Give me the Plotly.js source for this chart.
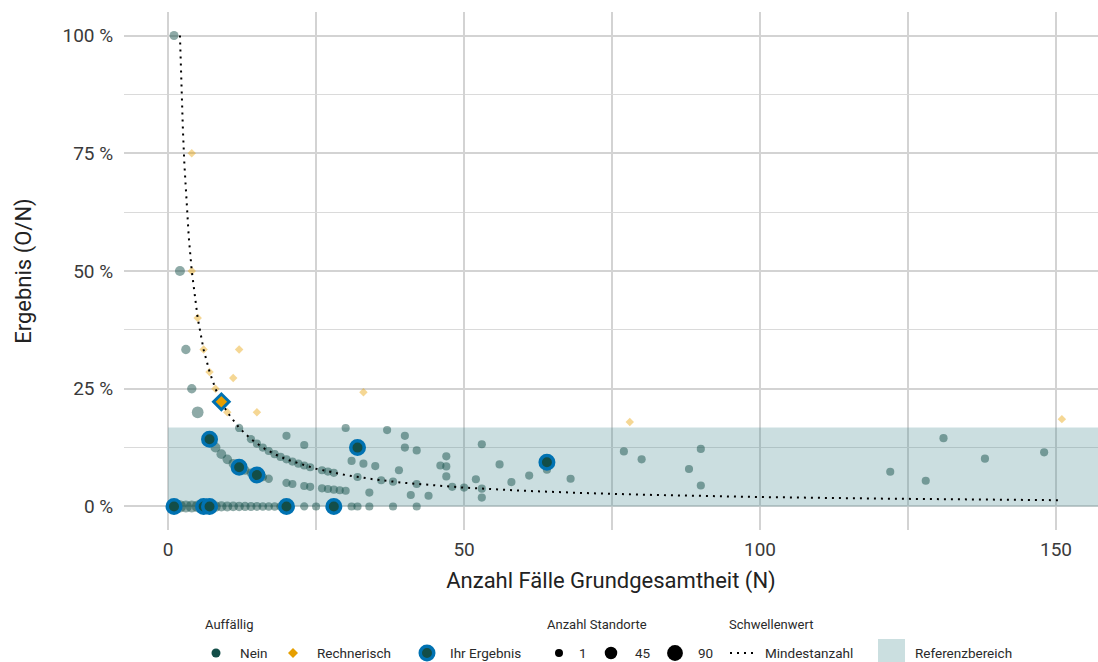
<!DOCTYPE html>
<html><head><meta charset="utf-8">
<script src="https://cdn.plot.ly/plotly-3.0.1.min.js"></script>
<style>html,body{margin:0;padding:0;background:#fff}#chart{width:1098px;height:662px}</style>
</head><body><div id="chart"></div>
<script>
// ---- Data: "Nein" (not conspicuous) sites: N = cases, O = observed events, standorte = number of sites at that point
const neinN = [1,2,3,4,5,6,7,8,9,10,11,12,13,14,15,16,17,18,19,20,23,25,28,31,32,34,38,42,
  1,2,3,4,5,7,8,9,10,11,12,13,14,15,16,17,20,21,23,24,26,27,28,29,30,34,41,44,53,
  12,14,15,16,17,18,19,20,21,22,23,24,26,27,28,32,36,38,42,48,50,53,
  20,23,31,33,35,39,47,52,58,
  46,47,61,68,90,
  30,40,42,47,56,64,
  37,40,
  53,88,128,
  80,
  77,122,
  90,
  138,
  148,
  131];
const neinO = [0,0,0,0,0,0,0,0,0,0,0,0,0,0,0,0,0,0,0,0,0,0,0,0,0,0,0,0,
  1,1,1,1,1,1,1,1,1,1,1,1,1,1,1,1,1,1,1,1,1,1,1,1,1,1,1,1,1,
  2,2,2,2,2,2,2,2,2,2,2,2,2,2,2,2,2,2,2,2,2,2,
  3,3,3,3,3,3,3,3,3,
  4,4,4,4,4,
  5,5,5,5,5,5,
  6,6,
  7,7,7,
  8,
  9,9,
  11,
  14,
  17,
  19];
const neinStandorte = [45,42,40,38,36,32,28,24,20,18,15,13,11,9,8,6,5,4,4,3,3,2,2,2,2,2,2,2,
  9,18,12,12,36,20,18,16,14,12,10,9,8,6,5,4,3,2,2,2,2,2,2,2,2,2,2,2,2,
  3,3,2,2,2,2,2,2,2,2,2,2,2,2,2,2,2,2,2,2,2,2,
  2,2,2,2,2,2,2,2,2,
  2,2,2,2,2,
  2,2,2,2,2,2,
  2,2,
  2,2,2,
  2,
  2,2,
  2,
  2,
  2,
  2];

// ---- Data: "Rechnerisch" (computationally conspicuous)
const rechN = [4,4,5,6,7,8,10,11,12,15,33,78,151];
const rechO = [3,2,2,2,2,2,2,3,4,3,8,14,28];

// ---- Data: "Ihr Ergebnis" (own sites)
const ihrN = [1,6,7,20,28,7,12,15,32,64];
const ihrO = [0,0,0,0,0,1,1,1,4,6];
const ihrRechN = [9];
const ihrRechO = [2];

// ---- Threshold line "Mindestanzahl"
const mindestN = [2,2.25,2.5,2.75,3,3.5,4,4.5,5,6,7,8,9,10,12,14,16,18,20,25,30,35,40,50,60,70,80,100,120,151];
const mindestY = [1.0,0.889,0.8,0.727,0.667,0.571,0.5,0.444,0.4,0.333,0.286,0.25,0.222,0.2,0.167,0.143,0.125,0.111,0.1,0.08,0.0667,0.0571,0.05,0.04,0.0333,0.0286,0.025,0.02,0.0167,0.0132];

// ---- Reference range
const refLower = 0;
const refUpper = 0.1677;

// ---- Axis ticks
const xTicks = [0,50,100,150];
const xMinor = [25,75,125];
const yTicks = [0,0.25,0.5,0.75,1];
const yTickText = ['0 %','25 %','50 %','75 %','100 %'];
const yMinor = [0.125,0.375,0.625,0.875];

// ---- Legend texts
const legendTitles = ['Auffällig','Anzahl Standorte','Schwellenwert'];
const auffLabels = ['Nein','Rechnerisch','Ihr Ergebnis'];
const sizeLegend = [1,45,90];
const schwelleLabel = 'Mindestanzahl';
const refLabel = 'Referenzbereich';

// ---- Styles
const FONT = 'Roboto, "Noto Sans", "DejaVu Sans", sans-serif';
const cNein = '#134e48';
const cRech = '#E69F00';
const cIhr = '#0072B2';
const DOT = '2px,5px';
const sizeOf = c => Math.sqrt(62 + 2.1 * c);
const ratio = (o, n) => o.map((v, i) => v / n[i]);

const traces = [
  {type:'scatter', mode:'markers', name:'Nein', x: neinN, y: ratio(neinO, neinN), showlegend:false,
   marker:{color:cNein, opacity:0.48, size: neinStandorte.map(sizeOf), line:{width:0}}},
  {type:'scatter', mode:'markers', name:'Rechnerisch', x: rechN, y: ratio(rechO, rechN), showlegend:false,
   marker:{color:cRech, opacity:0.42, symbol:'diamond', size:6.5, line:{width:0}}},
  {type:'scatter', mode:'lines', name:'Mindestanzahl', x: mindestN, y: mindestY, showlegend:false, hoverinfo:'skip',
   line:{color:'#000', width:2, dash:DOT}},
  {type:'scatter', mode:'markers', name:'Ihr Ergebnis', x: ihrN, y: ratio(ihrO, ihrN), showlegend:false,
   marker:{color:cNein, size:13.5, line:{color:cIhr, width:3.5}}},
  {type:'scatter', mode:'markers', name:'Ihr Ergebnis', x: ihrRechN, y: ratio(ihrRechO, ihrRechN), showlegend:false,
   marker:{color:cRech, symbol:'diamond', size:12, line:{color:cIhr, width:3}}}
];

// px -> paper helpers (plot area: x 124..1098, y 12..530)
const px = v => (v - 124) / 974;
const py = v => (530 - v) / 518;
const LY = 653, TY = 624;

function circ(cx, d, color, line) {
  return {type:'circle', xref:'paper', yref:'paper', xsizemode:'pixel', ysizemode:'pixel',
    xanchor:px(cx), yanchor:py(LY), x0:-d/2, x1:d/2, y0:-d/2, y1:d/2,
    fillcolor:color, line: line || {width:0}, layer:'above'};
}
function txt(t, xpx, ypx, size) {
  return {text:t, xref:'paper', yref:'paper', x:px(xpx), y:py(ypx), xanchor:'left', yanchor:'middle',
    showarrow:false, font:{family:FONT, size:size, color:'#2a2a2a'}};
}

const legendShapes = [
  circ(216, 9, cNein),
  {type:'path', xref:'paper', yref:'paper', xsizemode:'pixel', ysizemode:'pixel',
   xanchor:px(293), yanchor:py(LY), path:'M-5,0L0,5L5,0L0,-5Z', fillcolor:cRech, line:{width:0}, layer:'above'},
  circ(427, 13.5, cNein, {color:cIhr, width:3.5}),
  circ(559, sizeOf(sizeLegend[0]), '#000'),
  circ(611, sizeOf(sizeLegend[1]), '#000'),
  circ(675, sizeOf(sizeLegend[2]), '#000'),
  {type:'line', xref:'paper', yref:'paper', x0:px(730), x1:px(753), y0:py(LY), y1:py(LY),
   line:{color:'#000', width:2, dash:DOT}, layer:'above'},
  {type:'rect', xref:'paper', yref:'paper', x0:px(878), x1:px(905), y0:py(639), y1:py(668),
   fillcolor:'#cbdfe0', line:{width:0}, layer:'above'}
];

const legendAnn = [
  txt(legendTitles[0], 203, TY, 13),
  txt(legendTitles[1], 545, TY, 13),
  txt(legendTitles[2], 727, TY, 13),
  txt(auffLabels[0], 238, LY, 13.5),
  txt(auffLabels[1], 315, LY, 13.5),
  txt(auffLabels[2], 448, LY, 13.5),
  txt(String(sizeLegend[0]), 577, LY, 13.5),
  txt(String(sizeLegend[1]), 633, LY, 13.5),
  txt(String(sizeLegend[2]), 696, LY, 13.5),
  txt(schwelleLabel, 763, LY, 13.5),
  txt(refLabel, 913, LY, 13.5)
];

const layout = {
  width:1098, height:662,
  margin:{l:124, r:0, t:12, b:132, pad:0},
  paper_bgcolor:'#fff', plot_bgcolor:'#fff',
  font:{family:FONT, color:'#333'},
  showlegend:false,
  xaxis:{
    range:[-7.45,157.1], tickvals:xTicks, ticktext:xTicks.map(String),
    showgrid:true, gridcolor:'#d3d3d3', gridwidth:1.5, zeroline:false, showline:false,
    ticks:'outside', ticklen:2, tickcolor:'rgba(0,0,0,0)',
    tickfont:{family:FONT, size:19, color:'#3a3a3a'},
    minor:{tickvals:xMinor, showgrid:true, gridcolor:'#d3d3d3', gridwidth:1.5, ticks:''},
    title:{text:'Anzahl Fälle Grundgesamtheit (N)', font:{family:FONT, size:22, color:'#222'}, standoff:12},
    automargin:false, fixedrange:true
  },
  yaxis:{
    range:[-0.05,1.05], tickvals:yTicks, ticktext:yTickText,
    showgrid:true, gridcolor:'#d3d3d3', gridwidth:1.5, zeroline:false, showline:false,
    ticks:'outside', ticklen:6, tickcolor:'rgba(0,0,0,0)',
    tickfont:{family:FONT, size:19, color:'#3a3a3a'},
    minor:{tickvals:yMinor, showgrid:true, gridcolor:'#dadada', gridwidth:1.2, ticks:''},
    title:{text:'Ergebnis (O/N)', font:{family:FONT, size:22, color:'#222'}, standoff:24},
    automargin:false, fixedrange:true
  },
  shapes:[
    {type:'rect', xref:'x', yref:'y', x0:0, x1:160, y0:refLower, y1:refUpper,
     fillcolor:'rgba(70,135,145,0.28)', line:{width:0}, layer:'between'}
  ].concat(legendShapes),
  annotations: legendAnn,
  hovermode:'closest'
};

Plotly.newPlot('chart', traces, layout, {displayModeBar:false});
</script>
</body></html>
